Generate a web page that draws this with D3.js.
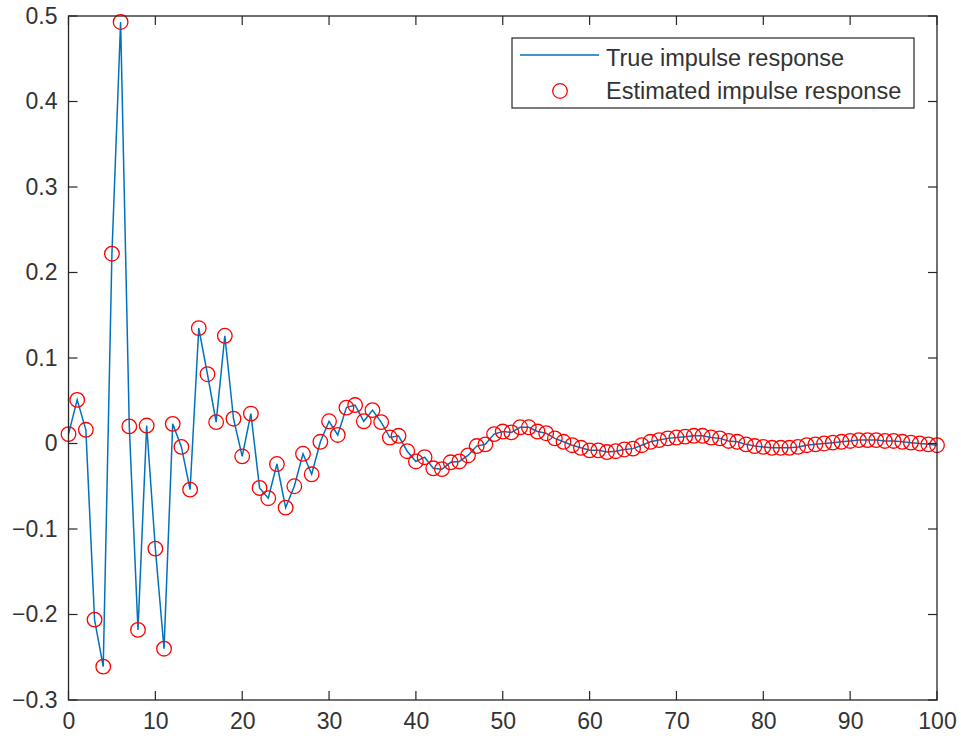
<!DOCTYPE html>
<html><head><meta charset="utf-8">
<script src="https://cdn.jsdelivr.net/npm/d3@7"></script>
<style>body{margin:0;background:#fff}svg{display:block}text{font-family:"Liberation Sans",Arial,sans-serif}</style>
</head><body><svg id="c" width="961" height="744"></svg>
<script>
const lags = d3.range(0, 101);
const trueResponse = [0.011,0.051,0.016,-0.206,-0.261,0.222,0.493,0.020,-0.218,0.021,
-0.123,-0.240,0.023,-0.004,-0.054,0.135,0.081,0.025,0.126,0.029,
-0.015,0.035,-0.052,-0.064,-0.024,-0.075,-0.050,-0.012,-0.036,0.002,
0.026,0.010,0.042,0.045,0.026,0.039,0.025,0.007,0.009,-0.009,
-0.021,-0.016,-0.029,-0.030,-0.022,-0.021,-0.014,-0.003,-0.001,0.011,
0.014,0.013,0.019,0.019,0.014,0.012,0.006,0.002,-0.002,-0.005,
-0.008,-0.008,-0.010,-0.009,-0.007,-0.006,-0.002,0.002,0.004,0.006,
0.007,0.008,0.009,0.009,0.007,0.006,0.003,0.002,-0.001,-0.003,
-0.004,-0.005,-0.005,-0.005,-0.004,-0.002,-0.001,0.000,0.001,0.002,
0.003,0.004,0.004,0.004,0.003,0.003,0.002,0.001,0.000,-0.001,-0.002];
const estimatedResponse = trueResponse.slice();
const xTicks = [0,10,20,30,40,50,60,70,80,90,100];
const yTicks = [-0.3,-0.2,-0.1,0,0.1,0.2,0.3,0.4,0.5];
const legendLabels = ["True impulse response","Estimated impulse response"];

const L=68.5, R=937, T=16, B=700;
const svg=d3.select("#c");
const x=d3.scaleLinear().domain([0,100]).range([L,R]);
const y=d3.scaleLinear().domain([-0.3,0.5]).range([B,T]);
const axC="#262626", fs=23;

const g=svg.append("g");
g.append("path").datum(lags)
 .attr("fill","none").attr("stroke","#0072BD").attr("stroke-width",1.5)
 .attr("d",d3.line().x(d=>x(d)).y(d=>y(trueResponse[d])));
g.selectAll("circle.e").data(lags).join("circle").attr("class","e")
 .attr("cx",d=>x(d)).attr("cy",d=>y(estimatedResponse[d])).attr("r",7.3)
 .attr("fill","none").attr("stroke","#FF0000").attr("stroke-width",1.3);

const tk=9;
const ax=svg.append("g").attr("transform",`translate(0,${B})`)
 .call(d3.axisBottom(x).tickValues(xTicks).tickSize(0).tickPadding(13).tickFormat(d3.format("d")));
const ay=svg.append("g").attr("transform",`translate(${L},0)`)
 .call(d3.axisLeft(y).tickValues(yTicks).tickSize(0).tickPadding(11).tickFormat(d=>d===0?"0":d3.format(".1f")(d)));
[ax,ay].forEach(a=>{a.select(".domain").remove();a.selectAll("text").attr("fill","#333").style("font-size",fs+"px").style("font-family","'Liberation Sans',Arial,sans-serif");});
ax.selectAll("text").attr("dy","0.71em");
const tg=svg.append("g").attr("stroke",axC).attr("stroke-width",1.2);
xTicks.forEach(v=>{tg.append("line").attr("x1",x(v)).attr("x2",x(v)).attr("y1",B).attr("y2",B-tk);
 tg.append("line").attr("x1",x(v)).attr("x2",x(v)).attr("y1",T).attr("y2",T+tk);});
yTicks.forEach(v=>{tg.append("line").attr("y1",y(v)).attr("y2",y(v)).attr("x1",L).attr("x2",L+tk);
 tg.append("line").attr("y1",y(v)).attr("y2",y(v)).attr("x1",R).attr("x2",R-tk);});
svg.append("rect").attr("x",L).attr("y",T).attr("width",R-L).attr("height",B-T)
 .attr("fill","none").attr("stroke",axC).attr("stroke-width",1.3);

const lg=svg.append("g");
lg.append("rect").attr("x",512).attr("y",38).attr("width",402).attr("height",70)
 .attr("fill","#fff").attr("stroke",axC).attr("stroke-width",1.2);
lg.append("line").attr("x1",520).attr("x2",599).attr("y1",55).attr("y2",55)
 .attr("stroke","#0072BD").attr("stroke-width",1.5);
lg.append("circle").attr("cx",560).attr("cy",91).attr("r",7.3)
 .attr("fill","none").attr("stroke","#FF0000").attr("stroke-width",1.3);
lg.selectAll("text").data(legendLabels).join("text")
 .attr("x",606).attr("y",(d,i)=>i===0?58:91).attr("dy","0.35em")
 .attr("fill","#333").style("font-size","23.5px").text(d=>d);
</script></body></html>
